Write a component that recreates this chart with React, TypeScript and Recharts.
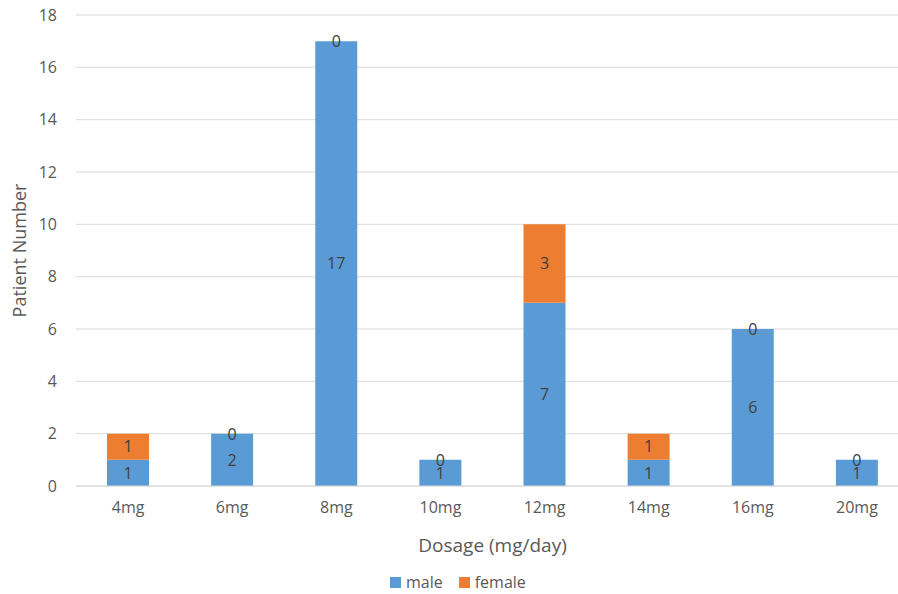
import React from 'react';
import {
  BarChart, Bar, XAxis, YAxis, CartesianGrid, Legend, LabelList
} from 'recharts';

const categories = ['4mg', '6mg', '8mg', '10mg', '12mg', '14mg', '16mg', '20mg'];
const maleCounts = [1, 2, 17, 1, 7, 1, 6, 1];
const femaleCounts = [1, 0, 0, 0, 3, 1, 0, 0];
const yTicks = [0, 2, 4, 6, 8, 10, 12, 14, 16, 18];

const MALE = '#5B9BD5';
const FEMALE = '#ED7D31';
const AXIS_TEXT = '#595959';
const LABEL_TEXT = '#404040';

const data = categories.map((name, i) => ({
  name,
  male: maleCounts[i],
  female: femaleCounts[i],
}));

// zero-height female segments get no label from recharts, so draw them on the male bar top
const ZeroFemaleLabel = (props: any) => {
  const { x, y, width, index } = props;
  if (femaleCounts[index] !== 0) return null;
  return (
    <text
      x={Number(x) + Number(width) / 2}
      y={Number(y)}
      textAnchor="middle"
      dominantBaseline="central"
      fill={LABEL_TEXT}
      fontSize={16}
    >
      {femaleCounts[index]}
    </text>
  );
};

const LegendBox = () => (
  <div style={{ display: 'flex', alignItems: 'center', fontSize: 16, color: AXIS_TEXT }}>
    <span style={{ width: 11, height: 11, background: MALE, display: 'inline-block', marginRight: 5 }} />
    <span style={{ marginRight: 16 }}>male</span>
    <span style={{ width: 11, height: 11, background: FEMALE, display: 'inline-block', marginRight: 5 }} />
    <span>female</span>
  </div>
);

export default function App() {
  return (
    <div
      style={{
        position: 'absolute', left: 0, top: 0, width: 898, height: 594,
        overflow: 'hidden', background: '#fff', fontFamily: '"Open Sans", sans-serif',
      }}
    >
      <BarChart
        width={910}
        height={594}
        data={data}
        margin={{ top: 15, right: 1, bottom: 38, left: 0 }}
      >
        <CartesianGrid vertical={false} stroke="#d9d9d9" />
        <XAxis
          dataKey="name"
          height={70}
          axisLine={{ stroke: '#d9d9d9' }}
          tickLine={false}
          tickSize={6}
          tickMargin={10}
          tick={{ fill: AXIS_TEXT, fontSize: 16 }}
          label={{
            value: 'Dosage (mg/day)', position: 'insideBottom', offset: 4,
            style: { fill: AXIS_TEXT, fontSize: 19 },
          }}
        />
        <YAxis
          width={76}
          domain={[0, 18]}
          ticks={yTicks}
          axisLine={false}
          tickLine={false}
          tickSize={6}
          tickMargin={13}
          tick={{ fill: AXIS_TEXT, fontSize: 16 }}
          label={{
            value: 'Patient Number', angle: -90, position: 'insideLeft', offset: 20,
            style: { fill: AXIS_TEXT, fontSize: 18, textAnchor: 'middle' },
          }}
        />
        <Legend
          verticalAlign="middle"
          align="center"
          content={<LegendBox />}
          wrapperStyle={{ top: 571, left: 390, width: 'auto', height: 'auto' }}
        />
        <Bar dataKey="male" stackId="a" fill={MALE} barSize={42} isAnimationActive={false}>
          <LabelList dataKey="male" position="center" fill={LABEL_TEXT} fontSize={16} />
          <LabelList dataKey="female" content={ZeroFemaleLabel} />
        </Bar>
        <Bar dataKey="female" stackId="a" fill={FEMALE} barSize={42} isAnimationActive={false}>
          <LabelList dataKey="female" position="center" fill={LABEL_TEXT} fontSize={16} />
        </Bar>
      </BarChart>
    </div>
  );
}
